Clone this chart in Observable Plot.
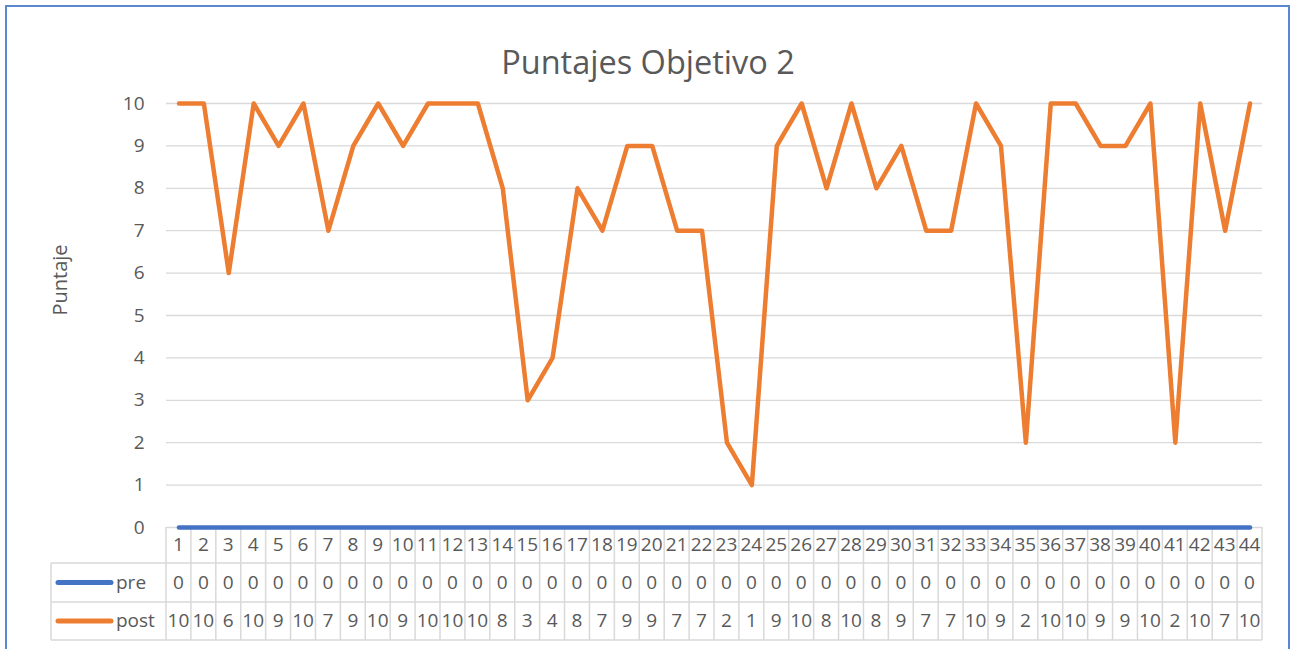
<!DOCTYPE html>
<html>
<head>
<meta charset="utf-8">
<script src="https://cdn.jsdelivr.net/npm/d3@7"></script>
<script src="https://cdn.jsdelivr.net/npm/@observablehq/plot@0.6"></script>
<style>
  html, body { margin: 0; padding: 0; background: #fff; }
  #wrap { position: relative; width: 1295px; height: 649px; overflow: hidden; }
  #frame { position: absolute; left: 5px; top: 5px; width: 1285px; height: 700px; border: 2px solid #5B86D2; box-sizing: border-box; pointer-events: none; }
</style>
</head>
<body>
<div id="wrap"><div id="frame"></div></div>
<script>
const categories = d3.range(1, 45);
const pre = [0,0,0,0,0,0,0,0,0,0,0,0,0,0,0,0,0,0,0,0,0,0,0,0,0,0,0,0,0,0,0,0,0,0,0,0,0,0,0,0,0,0,0,0];
const post = [10,10,6,10,9,10,7,9,10,9,10,10,10,8,3,4,8,7,9,9,7,7,2,1,9,10,8,10,8,9,7,7,10,9,2,10,10,9,9,10,2,10,7,10];
const yTicks = [0,1,2,3,4,5,6,7,8,9,10];
const seriesNames = ["pre", "post"];
const seriesColors = ["#4472C4", "#ED7D31"];
const title = "Puntajes Objetivo 2";
const yLabel = "Puntaje";

const preData = categories.map((c, i) => ({x: c, y: pre[i]}));
const postData = categories.map((c, i) => ({x: c, y: post[i]}));

const font = "'Open Sans', sans-serif";
const textColor = "#595959";
const W = 1295, H = 649, mL = 166, mR = 33;

const chart = Plot.plot({
  width: W,
  height: H,
  marginLeft: mL,
  marginRight: mR,
  marginTop: 103,
  marginBottom: 122,
  style: {fontFamily: font, color: textColor, background: "transparent", overflow: "visible"},
  x: {type: "linear", domain: [0.5, 44.5], axis: null},
  y: {domain: [0, 10], axis: null},
  marks: [
    Plot.gridY(yTicks, {stroke: "#d9d9d9", strokeOpacity: 1, strokeWidth: 1.3}),
    Plot.axisY(yTicks, {tickSize: 0, tickPadding: 22, fontSize: 19, fill: textColor, label: null}),
    Plot.line(preData, {x: "x", y: "y", stroke: seriesColors[0], strokeWidth: 4.5, strokeLinecap: "round", strokeLinejoin: "round"}),
    Plot.line(postData, {x: "x", y: "y", stroke: seriesColors[1], strokeWidth: 4.5, strokeLinecap: "round", strokeLinejoin: "round"}),
    Plot.text([title], {frameAnchor: "top", dy: -53, dx: W / 2 - (mL + (W - mR)) / 2, fontSize: 32.5, fill: textColor, fontFamily: font}),
    Plot.text([yLabel], {frameAnchor: "left", dx: -106, rotate: -90, fontSize: 20, fill: textColor, fontFamily: font})
  ]
});

document.getElementById("wrap").prepend(chart);

// Data table below the chart, positioned with the chart's own scales
const sx = chart.scale("x").apply.bind(chart.scale("x"));
const sy = chart.scale("y").apply.bind(chart.scale("y"));
const svg = d3.select(chart);
const g = svg.append("g").attr("class", "datatable");
const y0 = sy(0);
const rowH = [36, 39, 38];
const rowTop = [y0, y0 + rowH[0], y0 + rowH[0] + rowH[1]];
const tableBottom = rowTop[2] + rowH[2];
const legendLeft = 51;
const xRight = sx(44.5);
const grid = "#d9d9d9";

// vertical lines
const bounds = d3.range(0, 45).map(k => k + 0.5);
g.selectAll("line.v").data(bounds).join("line")
  .attr("x1", d => sx(d)).attr("x2", d => sx(d))
  .attr("y1", y0).attr("y2", tableBottom)
  .attr("stroke", grid).attr("stroke-width", 1.5);
// legend column left edge
g.append("line").attr("x1", legendLeft).attr("x2", legendLeft)
  .attr("y1", rowTop[1]).attr("y2", tableBottom).attr("stroke", grid).attr("stroke-width", 1.5);
// horizontal lines
[rowTop[1], rowTop[2], tableBottom].forEach(yy => {
  g.append("line").attr("x1", legendLeft).attr("x2", xRight)
    .attr("y1", yy).attr("y2", yy).attr("stroke", grid).attr("stroke-width", 1.5);
});

const rows = [
  {vals: categories, top: rowTop[0], h: rowH[0]},
  {vals: pre, top: rowTop[1], h: rowH[1]},
  {vals: post, top: rowTop[2], h: rowH[2]}
];
rows.forEach(r => {
  g.append("g").selectAll("text").data(r.vals).join("text")
    .attr("x", (d, i) => sx(categories[i]))
    .attr("y", r.top + r.h / 2 + 1)
    .attr("text-anchor", "middle")
    .attr("dominant-baseline", "middle")
    .attr("font-family", font)
    .attr("font-size", 19)
    .attr("fill", textColor)
    .text(d => d);
});

// legend keys
seriesNames.forEach((name, i) => {
  const r = rows[i + 1];
  const cy = r.top + r.h / 2;
  g.append("line").attr("x1", 58).attr("x2", 111).attr("y1", cy).attr("y2", cy)
    .attr("stroke", seriesColors[i]).attr("stroke-width", 5).attr("stroke-linecap", "round");
  g.append("text").attr("x", 116).attr("y", cy + 1)
    .attr("text-anchor", "start")
    .attr("dominant-baseline", "middle")
    .attr("font-family", font).attr("font-size", 19).attr("fill", textColor)
    .text(name);
});
// keep the blue zero line on top of the table grid
svg.select("g.datatable").lower();
</script>
</body>
</html>
